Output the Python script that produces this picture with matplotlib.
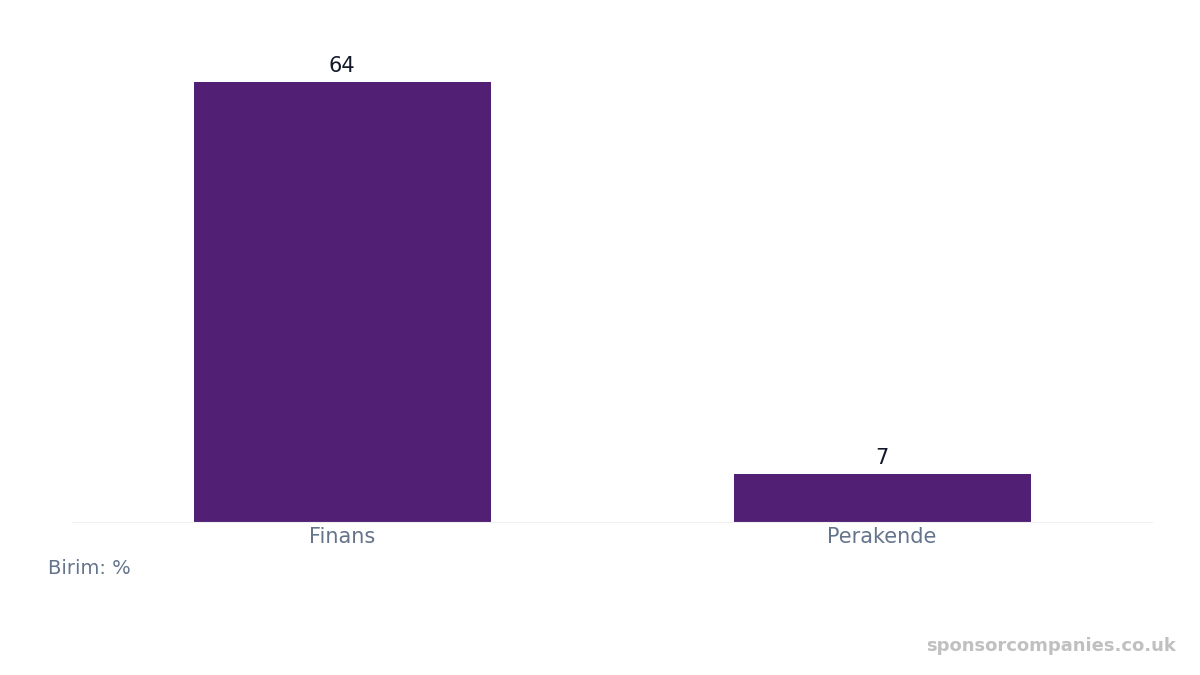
import matplotlib.pyplot as plt

plt.rcParams['font.family'] = ['DejaVu Sans']

categories = ['Finans', 'Perakende']
values = [64, 7]

fig = plt.figure(figsize=(12, 6.75), dpi=100)
ax = fig.add_axes([0.06, 0.227, 0.9, 0.71])
bars = ax.bar(categories, values, width=0.55, color='#512075')
ax.set_xlim(-0.5, 1.5)
ax.set_ylim(0, 69.7)
for b, v in zip(bars, values):
    ax.text(b.get_x() + b.get_width() / 2, v + 0.8, str(v), ha='center', va='bottom',
            fontsize=15, color='#111827')
for s in ['top', 'right', 'left']:
    ax.spines[s].set_visible(False)
ax.spines['bottom'].set_color('#f0f0f0')
ax.set_yticks([])
ax.tick_params(axis='x', length=0, labelsize=15, labelcolor='#64748b', pad=4)
fig.text(0.04, 0.15, 'Birim: %', fontsize=14, color='#64748b')
fig.text(0.98, 0.035, 'sponsorcompanies.co.uk', fontsize=13, color='#c0c0c0',
         ha='right', fontweight='bold')
fig.savefig('out.png')
